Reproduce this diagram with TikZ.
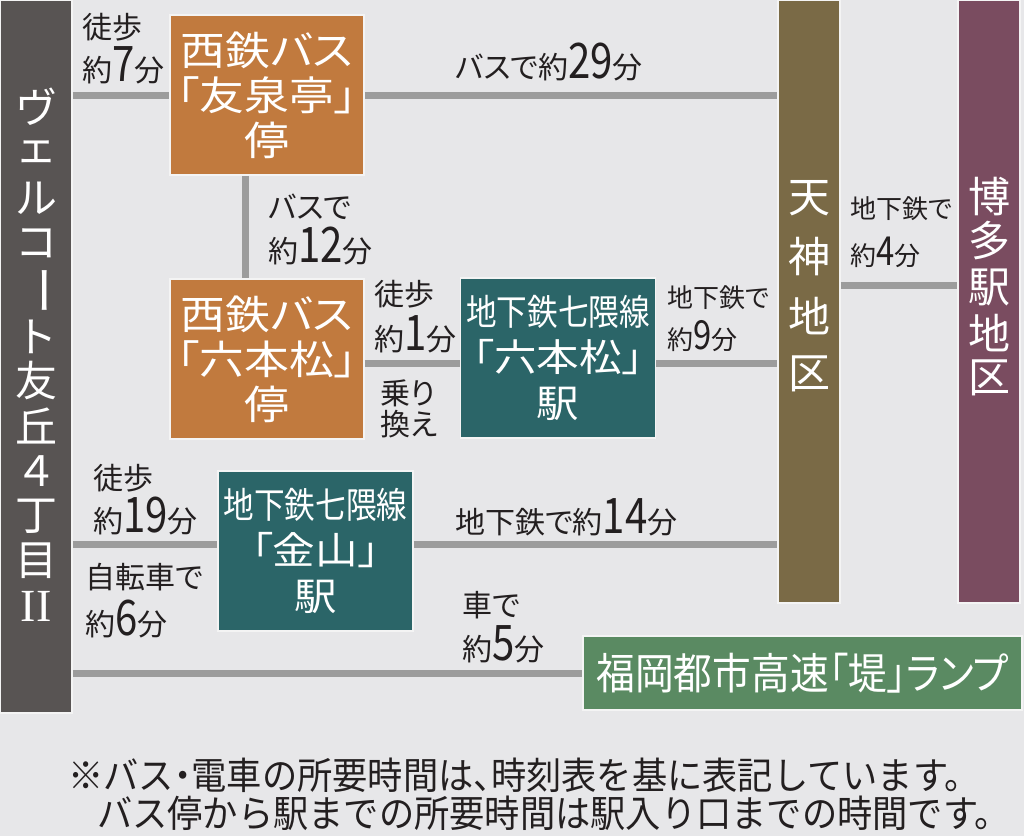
\documentclass[tikz,border=0pt]{standalone}
\usepackage{fontspec}
\setmainfont{Noto Sans CJK JP}
\newfontfamily\jp[RawFeature=+palt]{Noto Sans CJK JP}
\newfontfamily\jpw[FakeStretch=1.12,RawFeature=+palt]{Noto Sans CJK JP}
\newfontfamily\jpc[FakeStretch=0.85,RawFeature=+palt]{Noto Sans CJK JP}
\newfontfamily\jpg[FakeStretch=0.9,RawFeature=+palt]{Noto Sans CJK JP}
\newfontfamily\jpn[FakeStretch=0.94]{Noto Sans CJK JP}
\newfontfamily\jpnp[FakeStretch=0.94,RawFeature=+palt]{Noto Sans CJK JP}
\newfontfamily\dgf[FakeStretch=0.82]{Noto Sans CJK JP}
\newfontfamily\rmII{Liberation Serif}
\definecolor{bg}{RGB}{231,231,233}
\definecolor{linegray}{RGB}{156,156,156}
\definecolor{ink}{RGB}{35,31,32}
\definecolor{leftbarc}{RGB}{88,84,83}
\definecolor{orangebox}{RGB}{193,122,62}
\definecolor{tealbox}{RGB}{43,101,104}
\definecolor{olivebar}{RGB}{122,106,70}
\definecolor{purplebar}{RGB}{122,76,96}
\definecolor{greenbox}{RGB}{90,138,98}
\definecolor{boxedge}{RGB}{244,244,244}
\newcommand\dg[1]{{\dgf\fontsize{49}{49}\selectfont #1}}
\newcommand\dgs[1]{{\dgf\fontsize{40}{40}\selectfont #1}}
\newcommand\pn[1]{{\jpnp #1}}
\newcommand\cond[1]{{\jpc\fontsize{36}{46}\selectfont #1}}
\tikzset{
  conn/.style={draw=linegray, line width=7pt},
  box/.style={draw=boxedge, line width=1.5pt, inner sep=0pt, text=white, align=center},
  obox/.style={box, fill=orangebox, minimum width=194pt, minimum height=160pt, font=\jpw\fontsize{40}{45}\selectfont},
  tbox/.style={box, fill=tealbox, minimum width=195pt, minimum height=160pt, font=\jpw\fontsize{38}{46}\selectfont},
  bar/.style={draw=boxedge, line width=1.5pt, inner sep=0pt, minimum width=62pt, minimum height=603pt},
  vch/.style={inner sep=0pt, text=white, font=\fontsize{42}{42}\selectfont},
  lbl/.style={inner sep=0pt, anchor=base west, text=ink, font=\jp\fontsize{30}{30}\selectfont},
  slbl/.style={lbl, font=\jp\fontsize{26}{26}\selectfont},
  note/.style={inner sep=0pt, anchor=base west, text=ink, font=\jpn\fontsize{37.5}{37.5}\selectfont}
}
\begin{document}
\begin{tikzpicture}[x=1pt,y=-1pt]
\useasboundingbox (0,0) rectangle (1024,836);
\fill[bg] (0,0) rectangle (1024,836);

% main bars and boxes
\node[draw=boxedge, line width=1.5pt, fill=leftbarc, inner sep=0pt, minimum width=72pt, minimum height=713pt] (home) at (36,356.5) {};
\node[bar, fill=olivebar] (tenjin) at (809,301.5) {};
\node[bar, fill=purplebar] (hakata) at (989,301.5) {};
\node[obox] (yus) at (267,95) {西鉄バス\\「友泉亭」\\停};
\node[obox] (robus) at (267,359) {西鉄バス\\「六本松」\\停};
\node[tbox] (rosta) at (558,358) {\cond{地下鉄七隈線}\\「六本松」\\駅};
\node[tbox] (kana) at (315.5,551) {\cond{地下鉄七隈線}\\「金山」\\駅};
\node[box, fill=greenbox, minimum width=439pt, minimum height=74pt, font=\jpg\fontsize{43}{43}\selectfont] (ramp) at (802.5,673) {福岡都市高速「堤」ランプ};

% helper coordinates for line heights
\coordinate (yA) at (0,95);
\coordinate (yB) at (0,363);
\coordinate (yC) at (0,285);
\coordinate (yD) at (0,544);
\coordinate (yE) at (0,673);
\coordinate (xV) at (245,0);

% connectors
\draw[conn] (home.east |- yA) -- (yus.west |- yA);
\draw[conn] (yus.east |- yA) -- (tenjin.west |- yA);
\draw[conn] (xV |- yus.south) -- (xV |- robus.north);
\draw[conn] (robus.east |- yB) -- (rosta.west |- yB);
\draw[conn] (rosta.east |- yB) -- (tenjin.west |- yB);
\draw[conn] (tenjin.east |- yC) -- (hakata.west |- yC);
\draw[conn] (home.east |- yD) -- (kana.west |- yD);
\draw[conn] (kana.east |- yD) -- (tenjin.west |- yD);
\draw[conn] (home.east |- yE) -- (ramp.west |- yE);

% vertical texts
\foreach \c/\y [count=\i] in {ヴ/107,ェ/152,ル/198,コ/243} \node[vch] (h\i) at (36,\y) {\c};
\node[vch, rotate=-90, font=\fontsize{50}{50}\selectfont] (h5) at (36,290) {ー};
\foreach \c/\y [count=\i from 6] in {ト/337,友/381,丘/426,４/471,丁/516,目/561} \node[vch] (h\i) at (36,\y) {\c};
\node[inner sep=0pt, text=white, font=\rmII\fontsize{46}{46}\selectfont] (h12) at (36,606) {II};
\foreach \c/\y [count=\i] in {天/198,神/257,地/316,区/374} \node[vch] (tj\i) at (809,\y) {\c};
\foreach \c/\y [count=\i] in {博/197,多/241,駅/287,地/333,区/378} \node[vch] (hk\i) at (989,\y) {\c};

% labels
\node[lbl] (l1a) at (82,38) {徒歩};
\node[lbl] (l1b) at (82,81) {約\dg{7}分};
\node[lbl] (l2) at (455,78) {バスで約\dg{29}分};
\node[lbl] (l3a) at (268,218) {バスで};
\node[lbl] (l3b) at (268,262) {約\dg{12}分};
\node[lbl] (l4a) at (374,305) {徒歩};
\node[lbl] (l4b) at (374,350) {約\dg{1}分};
\node[lbl] (l5a) at (380,404) {乗り};
\node[lbl] (l5b) at (380,435) {換え};
\node[slbl] (l6a) at (667,307) {地下鉄で};
\node[slbl] (l6b) at (667,349) {約\dgs{9}分};
\node[slbl] (l7a) at (850,218) {地下鉄で};
\node[slbl] (l7b) at (850,265) {約\dgs{4}分};
\node[lbl] (l8a) at (93,489) {徒歩};
\node[lbl] (l8b) at (93,532) {約\dg{19}分};
\node[lbl] (l9) at (455,533) {地下鉄で約\dg{14}分};
\node[lbl] (l10a) at (85,588) {自転車で};
\node[lbl] (l10b) at (85,635) {約\dg{6}分};
\node[lbl] (l11a) at (462,616) {車で};
\node[lbl] (l11b) at (462,660) {約\dg{5}分};

% footnote
\node[note] (n1) at (68,789) {※バス\pn{・}電車の所要時間は\pn{、}時刻表を基に表記しています。};
\node[note] (n2) at (97,827) {バス停から駅までの所要時間は駅入り口までの時間です。};
\end{tikzpicture}
\end{document}
